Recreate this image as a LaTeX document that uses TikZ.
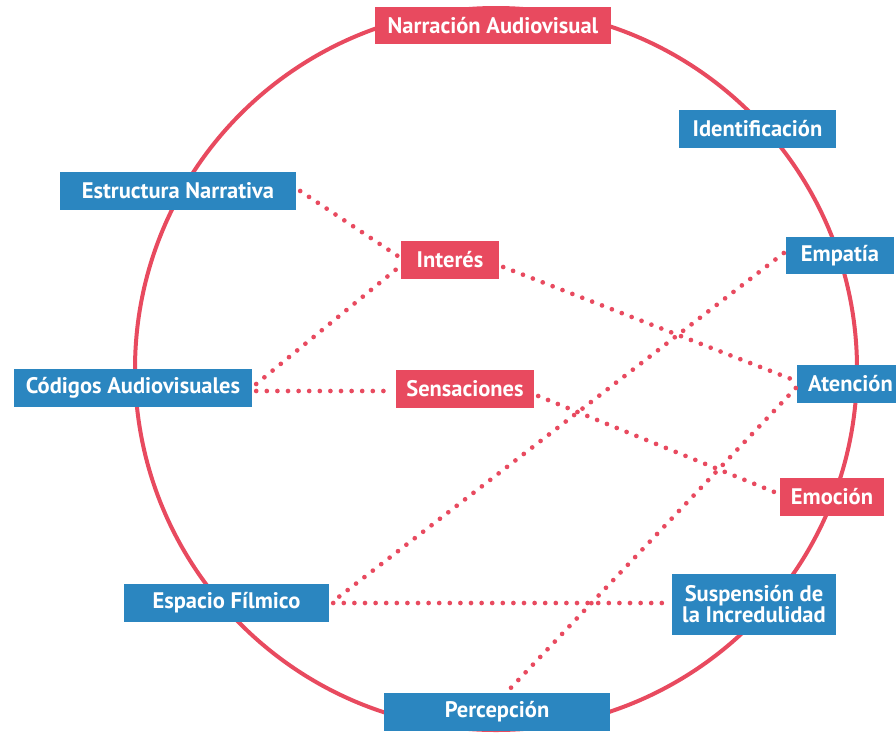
\documentclass[tikz,border=0pt]{standalone}
\usepackage{fontspec}
\setmainfont{PT Sans}
\usetikzlibrary{calc}
\definecolor{cred}{HTML}{E84A5F}
\definecolor{cblue}{HTML}{2B86C0}
\tikzset{
  box/.style={inner sep=0pt, text=white, font=\fontsize{22.5}{24}\selectfont\bfseries, align=center, anchor=center},
  rbox/.style={box, fill=cred},
  bbox/.style={box, fill=cblue},
  dots/.style={draw=cred, line width=4.7pt, line cap=round, dash pattern=on 0pt off 10.6pt},
  ring/.style={draw=cred, line width=4pt}
}
\begin{document}
\begin{tikzpicture}[x=1pt,y=-1pt]
\useasboundingbox (0,0) rectangle (896,732);
\draw[ring] (496,369) circle[radius=361];
% nodes
\node[rbox, minimum width=236, minimum height=37] (narr) at (493,25.5) {Narración Audiovisual};
\node[bbox, minimum width=157, minimum height=38] (ident) at (757.5,129) {Identificación};
\node[bbox, minimum width=236, minimum height=38] (estr) at (178,191) {Estructura Narrativa};
\node[bbox, minimum width=108, minimum height=37] (empat) at (840,255.5) {Empatía};
\node[rbox, minimum width=98, minimum height=38] (inter) at (450,260) {Interés};
\node[bbox, minimum width=238, minimum height=38] (cod) at (133,388) {Códigos Audiovisuales};
\node[rbox, minimum width=138, minimum height=38] (sens) at (465,389) {Sensaciones};
\node[bbox, minimum width=107, minimum height=38] (aten) at (850.5,384) {Atención};
\node[rbox, minimum width=104, minimum height=38] (emoc) at (832,497) {Emoción};
\node[bbox, minimum width=205, minimum height=38] (esp) at (226.5,603) {Espacio Fílmico};
\node[bbox, minimum width=164, minimum height=61] (susp) at (754,604.5) {Suspensión de\\[-3pt] la Incredulidad};
\node[bbox, minimum width=226, minimum height=38] (perc) at (497,712) {Percepción};
% connectors
\draw[dots] ([xshift=4]estr.east) -- ([xshift=-3,yshift=4]inter.west);
\draw[dots] ([xshift=4,yshift=4]cod.east) -- ([xshift=-3,yshift=-8]inter.west);
\draw[dots] ([xshift=4,yshift=-3]cod.east) -- ([xshift=-3,yshift=-2]sens.west);
\draw[dots] ([xshift=4,yshift=-7]inter.east) -- ([xshift=-3,yshift=4]aten.west);
\draw[dots] ([xshift=4,yshift=-7]sens.east) -- ([xshift=-3,yshift=4]emoc.west);
\draw[dots] ([xshift=-2,yshift=2.5]empat.west) -- ([xshift=3,yshift=1]esp.east);
\draw[dots] ([xshift=4]esp.east) -- ([xshift=-4,yshift=1.5]susp.west);
\draw[dots] ([xshift=-1,yshift=-4]aten.west) -- ([xshift=12,yshift=3]perc.north);
\end{tikzpicture}
\end{document}
